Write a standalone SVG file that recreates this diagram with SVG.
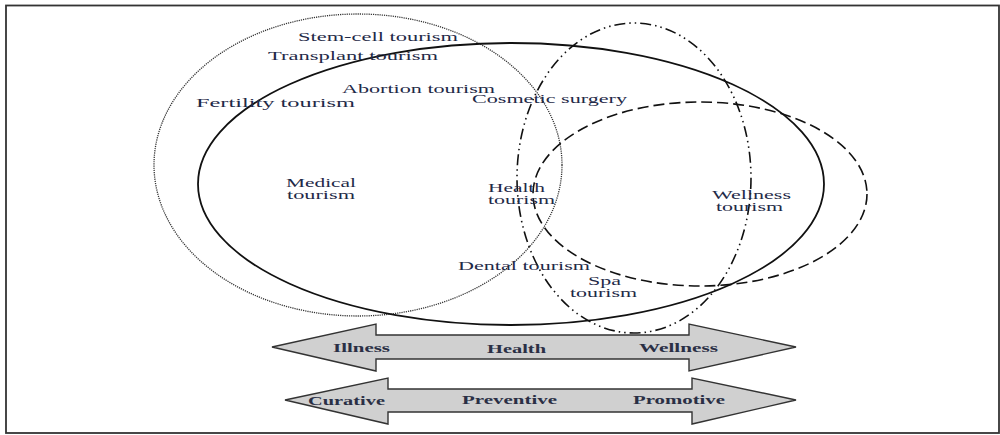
<svg xmlns="http://www.w3.org/2000/svg" width="1000" height="435" viewBox="0 0 1000 435">
<style>
.t{font-family:"Liberation Serif","Times New Roman",serif;font-size:12.5px;fill:#1f2a48;}
.b{font-weight:bold;fill:#2a2f45;}
.e{fill:none;}
.dot{stroke:#333;stroke-width:1.3;stroke-dasharray:1.2 1;}
.sol{stroke:#111;stroke-width:1.8;}
.dd{stroke:#111;stroke-width:1.6;stroke-dasharray:11 4 1.5 4 1.5 4;}
.das{stroke:#111;stroke-width:1.6;stroke-dasharray:11 5;}
.arr{fill:#d0d0d0;stroke:#333;stroke-width:1.4;stroke-linejoin:miter;}
</style>
<rect x="0" y="0" width="1000" height="435" fill="#fff"/>
<rect x="6" y="5.5" width="993" height="427.5" fill="none" stroke="#333" stroke-width="1.8"/>

<g id="medical-region">
<ellipse class="e dot" cx="358" cy="165" rx="204" ry="151"/>
</g>
<g id="health-region">
<ellipse class="e sol" cx="511" cy="184" rx="313" ry="141"/>
</g>
<g id="cosmetic-spa-region">
<ellipse class="e dd" cx="634" cy="178" rx="117" ry="155"/>
</g>
<g id="wellness-region">
<ellipse class="e das" cx="700" cy="194" rx="167" ry="92"/>
</g>

<g id="labels">
<text class="t" x="298" y="41" textLength="160" lengthAdjust="spacingAndGlyphs">Stem-cell tourism</text>
<text class="t" x="268" y="60" textLength="170" lengthAdjust="spacingAndGlyphs">Transplant tourism</text>
<text class="t" x="342" y="93" textLength="153" lengthAdjust="spacingAndGlyphs">Abortion tourism</text>
<text class="t" x="472" y="103" textLength="155" lengthAdjust="spacingAndGlyphs">Cosmetic surgery</text>
<text class="t" x="196" y="107" textLength="159" lengthAdjust="spacingAndGlyphs">Fertility tourism</text>
<text class="t" x="286" y="187" textLength="70" lengthAdjust="spacingAndGlyphs">Medical</text>
<text class="t" x="287" y="199" textLength="68" lengthAdjust="spacingAndGlyphs">tourism</text>
<text class="t" x="488" y="192" textLength="57" lengthAdjust="spacingAndGlyphs">Health</text>
<text class="t" x="488" y="204" textLength="67" lengthAdjust="spacingAndGlyphs">tourism</text>
<text class="t" x="712" y="199" textLength="79" lengthAdjust="spacingAndGlyphs">Wellness</text>
<text class="t" x="716" y="211" textLength="67" lengthAdjust="spacingAndGlyphs">tourism</text>
<text class="t" x="458" y="270" textLength="132" lengthAdjust="spacingAndGlyphs">Dental tourism</text>
<text class="t" x="588" y="285" textLength="33" lengthAdjust="spacingAndGlyphs">Spa</text>
<text class="t" x="570" y="297" textLength="67" lengthAdjust="spacingAndGlyphs">tourism</text>
</g>

<g id="scale-arrows">
<g id="arrow-illness-wellness">
<polygon class="arr" points="272,347 376,324 376,335 689,335 689,324 796,347 689,371 689,359 376,359 376,371"/>
<text class="t b" x="333" y="352" textLength="57" lengthAdjust="spacingAndGlyphs">Illness</text>
<text class="t b" x="487" y="353" textLength="59" lengthAdjust="spacingAndGlyphs">Health</text>
<text class="t b" x="639" y="352" textLength="79" lengthAdjust="spacingAndGlyphs">Wellness</text>
</g>
<g id="arrow-curative-promotive">
<polygon class="arr" points="285,400 388,378 388,389 692,389 692,378 796,400 692,424 692,412 388,412 388,424"/>
<text class="t b" x="308" y="405" textLength="77" lengthAdjust="spacingAndGlyphs">Curative</text>
<text class="t b" x="462" y="404" textLength="95" lengthAdjust="spacingAndGlyphs">Preventive</text>
<text class="t b" x="633" y="404" textLength="92" lengthAdjust="spacingAndGlyphs">Promotive</text>
</g>
</g>
</svg>
